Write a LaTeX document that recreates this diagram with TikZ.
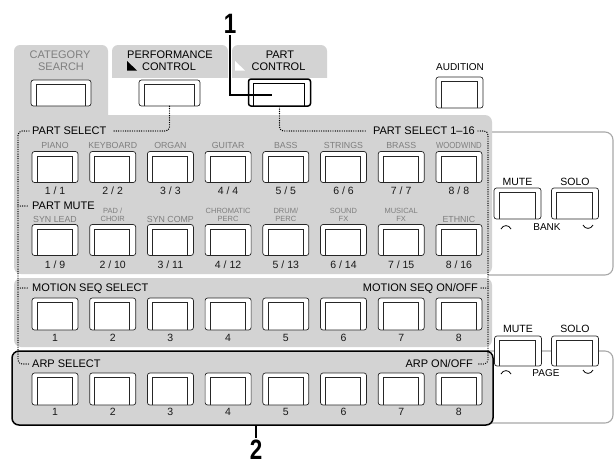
\documentclass[tikz,border=0pt]{standalone}
\usepackage{fontspec}
\setmainfont{Liberation Sans}
\definecolor{panelgray}{HTML}{D3D3D3}
\definecolor{labgray}{HTML}{7E7E7E}
\definecolor{boxline}{HTML}{A8A8A8}
\newcommand{\fsz}[1]{\fontsize{#1}{#1}\selectfont}
\newcommand{\sqz}[1]{\scalebox{0.88}[1]{#1}}
\tikzset{
  btn/.style={draw=black!85, line width=0.7pt, fill=white, rounded corners=2.5pt,
    minimum width=46pt, minimum height=31pt, inner sep=0pt,
    path picture={\draw[line width=0.6pt, sharp corners]
      ([xshift=5pt]path picture bounding box.south west) |-
      ([xshift=-6pt,yshift=-4.5pt]path picture bounding box.north east) --
      ([xshift=-6pt]path picture bounding box.south east);}},
  hdr/.style={font=\fsz{11}, inner sep=0pt, text height=7.9pt, text depth=0pt},
  lab/.style={font=\fsz{8.8}, text=labgray, inner sep=0pt, text height=6.3pt, text depth=0pt},
  labtwo/.style={font=\fsz{7.5}, text=labgray, inner sep=0pt, text height=5.4pt, text depth=0pt},
  num/.style={font=\fsz{10.5}, text=black!90, inner sep=0pt, text height=7.5pt, text depth=0pt},
  sm/.style={font=\fsz{10}, inner sep=0pt, text height=7.2pt, text depth=0pt},
  callout/.style={font=\bfseries\fsz{28}, inner sep=0pt, text height=20pt, text depth=0pt},
  dots/.style={line width=1.4pt, line cap=round, dash pattern=on 0pt off 2.3pt, rounded corners=4pt},
  grayline/.style={draw=boxline, line width=1.1pt, rounded corners=8pt},
  lead/.style={line width=1.5pt}
}
\begin{document}
\begin{tikzpicture}[x=1pt,y=-1pt]
\useasboundingbox (0,0) rectangle (615,467);
% right boxes
\draw[grayline] (488,132) -- (613,132) -- (613,275) -- (488,275);
\draw[grayline] (488,351) -- (613,351) -- (613,423) -- (488,423);
% tabs
\fill[panelgray, rounded corners=6pt] (14,45) rectangle (108,140);
\begin{scope}
  \clip (0,0) rectangle (615,77);
  \fill[panelgray, rounded corners=6pt] (112,45) rectangle (228,100);
  \fill[panelgray, rounded corners=6pt] (232,45) rectangle (327,100);
\end{scope}
% panels
\fill[panelgray, rounded corners=7pt] (14,115) rectangle (492,274);
\fill[panelgray, rounded corners=7pt] (14,278) rectangle (492,347);
\filldraw[fill=panelgray, draw=black, line width=1.5pt, rounded corners=7pt] (12,351) rectangle (493,425);
% tab labels
\node[hdr, text=labgray] (catA) at (60,55) {CATEGORY};
\node[hdr, text=labgray] (catB) at (61,67) {SEARCH};
\node[hdr] (perfA) at (170,55) {PERFORMANCE};
\node[hdr] (perfB) at (169,67) {CONTROL};
\fill[black] (127,70.5) -- (137,70.5) -- (127,61) -- cycle;
\node[hdr] (partA) at (280,55) {PART};
\node[hdr] (partB) at (278.5,67) {CONTROL};
\fill[white] (235,70.5) -- (245,70.5) -- (235,61) -- cycle;
\node[sm] (audl) at (460,67) {AUDITION};
% top buttons
\node[btn, minimum width=60pt, minimum height=26pt] (cat) at (61,93) {};
\node[btn, minimum width=61pt, minimum height=26pt] (perf) at (169.5,93) {};
\node[btn, minimum width=62pt, minimum height=27pt, line width=1.5pt, draw=black] (partc) at (279.5,92.5) {};
\node[btn, minimum width=47pt, minimum height=31pt] (aud) at (459.5,92.5) {};
% callout 1
\node[callout] (c1) at (230,23) {\scalebox{0.8}[1]{1}};
\coordinate (c1end) at (272,95);
\draw[lead] ([yshift=-2pt]c1.south) |- (c1end);
% headers
\node[hdr, anchor=west] (hps) at (32,131) {PART SELECT};
\node[hdr, anchor=east] (hps16) at (475,131) {PART SELECT 1–16};
\node[hdr, anchor=west] (hpm) at (32,206) {PART MUTE};
\node[hdr, anchor=west] (hms) at (32,288) {MOTION SEQ SELECT};
\node[hdr, anchor=east] (hmo) at (478,288) {MOTION SEQ ON/OFF};
\node[hdr, anchor=west] (has) at (32,364) {ARP SELECT};
\node[hdr, anchor=east] (hao) at (473,364) {ARP ON/OFF};
% dotted connectors
\draw[dots] (perf.south) |- (113,131);
\draw[dots] (partc.south) |- (366,131);
\draw[dots] (29,131) -- (18,131) -- (18,364) -- (29,364);
\draw[dots] (18,206) -- (29,206);
\draw[dots] (18,288) -- (29,288);
\draw[dots] (478,131) -- (488,131) -- (488,364) -- (477,364);
\draw[dots] (488,288) -- (481,288);
% row 1
\foreach \lab [count=\i from 0] in {PIANO,KEYBOARD,ORGAN,GUITAR,BASS,STRINGS,BRASS,\sqz{WOODWIND}} {
  \pgfmathsetmacro\cx{55+57.7*\i}
  \pgfmathtruncatemacro\k{\i+1}
  \node[btn] (ps\k) at (\cx,167) {};
  \node[lab] (psl\k) at (\cx,145) {\lab};
  \node[num] (psn\k) at (\cx,191) {\k{} / \k};
}
% row 2
\foreach \i/\lab in {0/SYN LEAD,2/SYN COMP,7/ETHNIC} {
  \pgfmathsetmacro\cx{55+57.7*\i}
  \node[lab] (pml\i) at (\cx,219) {\lab};
}
\foreach \i/\la/\lb in {1/{PAD /}/CHOIR,3/CHROMATIC/PERC,4/{DRUM/}/PERC,5/SOUND/FX,6/MUSICAL/FX} {
  \pgfmathsetmacro\cx{55+57.7*\i}
  \node[labtwo] (pma\i) at (\cx,210.5) {\la};
  \node[labtwo] (pmb\i) at (\cx,218.5) {\lb};
}
\foreach \i in {0,...,7} {
  \pgfmathsetmacro\cx{55+57.7*\i}
  \pgfmathtruncatemacro\k{\i+1}
  \pgfmathtruncatemacro\m{\i+9}
  \node[btn] (pm\k) at (\cx,240) {};
  \node[num] (pmn\k) at (\cx,265) {\k{} / \m};
  \node[btn, minimum height=32pt] (ms\k) at (\cx,314) {};
  \node[num] (msn\k) at (\cx,338) {\k};
  \node[btn, minimum height=32pt] (ar\k) at (\cx,389) {};
  \node[num] (arn\k) at (\cx,412) {\k};
}
% callout 2
\coordinate (arpbot) at (256,425);
\node[callout] (c2) at (256,449) {\scalebox{0.8}[1]{2}};
\draw[lead] (arpbot) -- ([yshift=1pt]c2.north);
% right: BANK group
\node[sm, font=\fsz{10.5}] (bmutel) at (517.5,182) {MUTE};
\node[sm, font=\fsz{10.5}] (bsolol) at (575,182) {SOLO};
\node[btn, minimum width=47pt] (bmute) at (517.5,203.5) {};
\node[btn, minimum width=47pt] (bsolo) at (575,203.5) {};
\node[sm] (bank) at (547,227) {BANK};
\draw[line width=0.8pt] (501,229) .. controls (503,224.5) and (509,224.5) .. (511,229);
\draw[line width=0.8pt] (583,225) .. controls (585,229.5) and (591,229.5) .. (593,225);
% right: PAGE group
\node[sm, font=\fsz{10.5}] (pmutel) at (518,329) {MUTE};
\node[sm, font=\fsz{10.5}] (psolol) at (575,329) {SOLO};
\node[btn, minimum width=47pt, minimum height=30pt] (pmute) at (518,351) {};
\node[btn, minimum width=47pt, minimum height=30pt] (psolo) at (575,351) {};
\node[sm] (page) at (546,373) {PAGE};
\draw[line width=0.8pt] (501,374) .. controls (503,369.5) and (509,369.5) .. (511,374);
\draw[line width=0.8pt] (583,370) .. controls (585,374.5) and (591,374.5) .. (593,370);
\end{tikzpicture}
\end{document}
